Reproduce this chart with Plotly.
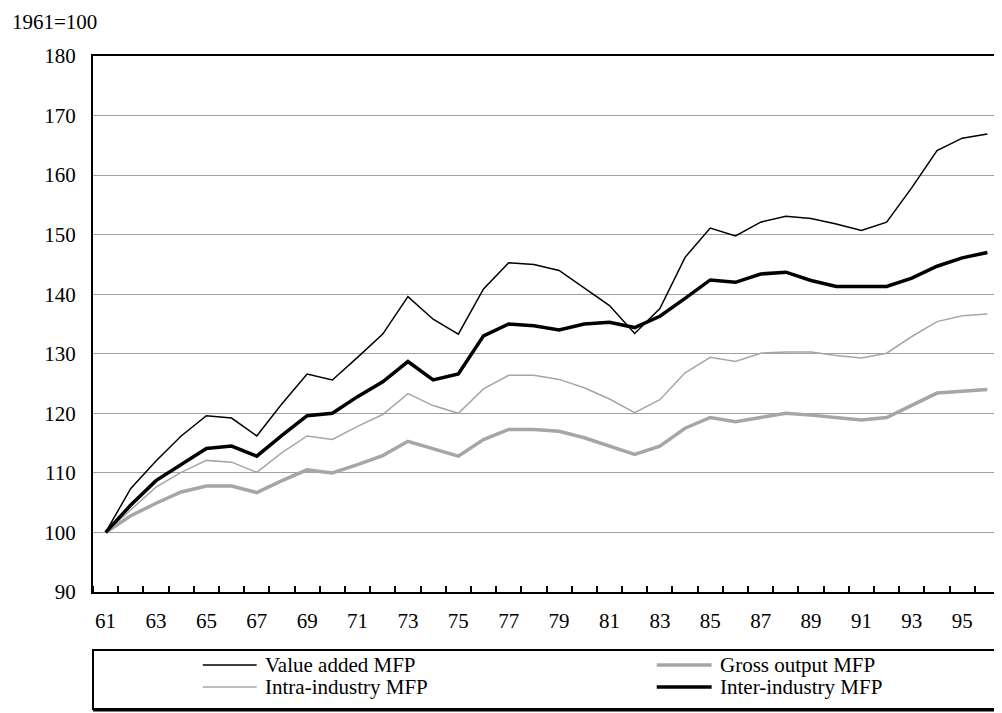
import plotly.graph_objects as go

# years (two-digit, 1961-1996)
years = [61, 62, 63, 64, 65, 66, 67, 68, 69, 70, 71, 72, 73, 74, 75, 76, 77, 78,
         79, 80, 81, 82, 83, 84, 85, 86, 87, 88, 89, 90, 91, 92, 93, 94, 95, 96]

value_added = [100, 107.4, 112.0, 116.2, 119.6, 119.2, 116.2, 121.6, 126.6, 125.6,
               129.4, 133.3, 139.6, 135.8, 133.3, 140.9, 145.3, 145.0, 144.0, 141.0,
               138.1, 133.4, 137.6, 146.2, 151.1, 149.8, 152.1, 153.1, 152.7, 151.8,
               150.7, 152.1, 157.9, 164.1, 166.2, 166.9]

gross_output = [100, 102.8, 104.9, 106.8, 107.8, 107.8, 106.7, 108.7, 110.5, 110.0,
                111.4, 112.9, 115.3, 114.1, 112.8, 115.6, 117.3, 117.3, 117.0, 115.9,
                114.5, 113.1, 114.5, 117.5, 119.3, 118.6, 119.3, 120.0, 119.7, 119.3,
                118.9, 119.3, 121.3, 123.4, 123.7, 124.0]

intra_industry = [100, 103.8, 107.6, 110.1, 112.1, 111.8, 110.1, 113.4, 116.2, 115.6,
                  117.8, 119.8, 123.3, 121.3, 120.0, 124.1, 126.4, 126.4, 125.7, 124.3,
                  122.4, 120.1, 122.3, 126.8, 129.4, 128.7, 130.1, 130.3, 130.3, 129.7,
                  129.3, 130.1, 132.9, 135.4, 136.4, 136.7]

inter_industry = [100, 104.6, 108.7, 111.4, 114.1, 114.5, 112.8, 116.3, 119.6, 120.0,
                  122.8, 125.3, 128.7, 125.6, 126.6, 133.0, 135.0, 134.7, 134.0, 135.0,
                  135.3, 134.4, 136.3, 139.3, 142.4, 142.0, 143.4, 143.7, 142.3, 141.3,
                  141.3, 141.3, 142.7, 144.7, 146.1, 147.0]

FONT = "Liberation Serif"
GREY = "#A6A6A6"

# name, values, colour, width, legend column, legend row
series = [
    ("Value added MFP", value_added, "black", 1.5, 0, 0),
    ("Gross output MFP", gross_output, GREY, 3.5, 1, 0),
    ("Intra-industry MFP", intra_industry, GREY, 1.5, 0, 1),
    ("Inter-industry MFP", inter_industry, "black", 3.5, 1, 1),
]

fig = go.Figure()
for name, vals, color, width, col, row in series:
    fig.add_trace(go.Scatter(x=years, y=vals, mode="lines", name=name,
                             line=dict(color=color, width=width)))

# page body has an 8px margin, so the figure is a bit smaller than the window
fig.update_layout(
    width=994, height=705,
    margin=dict(l=85, r=0, t=48, b=121),
    plot_bgcolor="white",
    paper_bgcolor="white",
    font=dict(family=FONT, size=21, color="black"),
    showlegend=False,
)

fig.update_xaxes(
    range=[60.5, 96.5], tick0=61, dtick=2, showgrid=False,
    showline=True, linecolor="black", linewidth=2, mirror=True,
    ticks="", ticklabelstandoff=9,
    minor=dict(ticks="inside", tick0=60.5, dtick=1, ticklen=6, tickwidth=1.5,
               tickcolor="black", showgrid=False),
)
fig.update_yaxes(
    range=[90, 180], dtick=10, showgrid=True, gridcolor="#A0A0A0", gridwidth=1.2,
    showline=True, linecolor="black", linewidth=2, mirror=True,
    ticks="", ticklabelstandoff=11, zeroline=False,
)

# plot area is 909 x 536 px (screen 93..1002, 56..592); paper-unit helpers
def px_x(px):
    return (px - 93) / 909.0

def px_y(px):
    return (592 - px) / 536.0

# unit label (kept inside the figure's top edge)
fig.add_annotation(text="1961=100", xref="paper", yref="paper", x=px_x(10), y=px_y(8),
                   xanchor="left", yanchor="top", showarrow=False,
                   font=dict(family=FONT, size=21))

# legend frame
fig.add_shape(type="rect", xref="paper", yref="paper", x0=0, x1=1.01,
              y0=px_y(709), y1=px_y(650), line=dict(color="black", width=2))
fig.add_shape(type="line", xref="paper", yref="paper", x0=0, x1=1.01,
              y0=px_y(710), y1=px_y(710), line=dict(color="black", width=3))

# legend entries (two columns, two rows)
col_line = [(203, 257), (658, 713)]
col_text = [263, 719]
row_y = [665, 687]
for name, vals, color, width, col, row in series:
    fig.add_shape(type="line", xref="paper", yref="paper",
                  x0=px_x(col_line[col][0]), x1=px_x(col_line[col][1]),
                  y0=px_y(row_y[row]), y1=px_y(row_y[row]),
                  line=dict(color=color, width=width))
    fig.add_annotation(text=name, xref="paper", yref="paper",
                       x=px_x(col_text[col]), y=px_y(row_y[row]),
                       xanchor="left", yanchor="middle", showarrow=False,
                       font=dict(family=FONT, size=21))

fig.write_html("out.html")
